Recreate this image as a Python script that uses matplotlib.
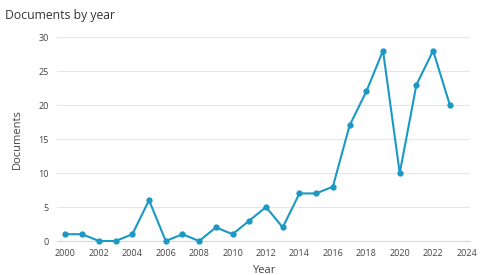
import matplotlib
matplotlib.use("Agg")
import matplotlib.pyplot as plt

years = list(range(2000, 2024))
documents = [1, 1, 0, 0, 1, 6, 0, 1, 0, 2, 1, 3, 5, 2, 7, 7, 8, 17, 22, 28, 10, 23, 28, 20]
xticks = list(range(2000, 2025, 2))
yticks = [0, 5, 10, 15, 20, 25, 30]

plt.rcParams['font.family'] = ['Open Sans', 'DejaVu Sans']
fig = plt.figure(figsize=(4.8, 2.75), dpi=100)
ax = fig.add_axes([0.119, 0.1236, 0.86, 0.7414])
line_color = '#1b98c4'
ax.plot(years, documents, color=line_color, lw=1.5, marker='o', ms=3.5, clip_on=False, zorder=3)
ax.set_xlim(1999.5, 2024.2)
ax.set_ylim(0, 30)
ax.set_xticks(xticks)
ax.set_yticks(yticks)
ax.grid(axis='y', color='#e6e6e6', lw=0.8)
ax.set_axisbelow(True)
for s in ['top', 'right', 'left']:
    ax.spines[s].set_visible(False)
ax.spines['bottom'].set_color('#d8d8d8')
ax.tick_params(length=0, labelsize=6.5, colors='#444444', pad=6)
ax.set_xlabel('Year', fontsize=8, color='#444444', labelpad=5)
ax.set_ylabel('Documents', fontsize=8, color='#444444', labelpad=11)
fig.text(0.01, 0.945, 'Documents by year', fontsize=8.8, color='#333333', va='center')
fig.savefig('out.png', dpi=100)
